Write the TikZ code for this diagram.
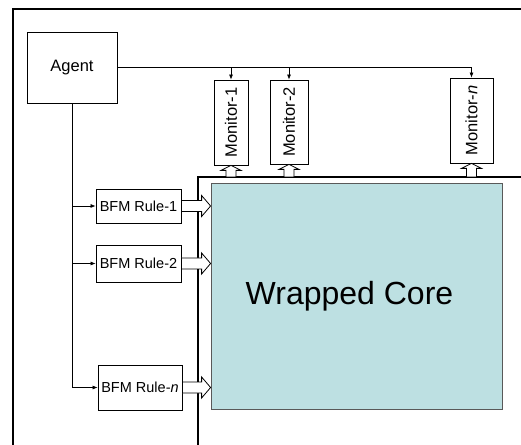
\documentclass[tikz,border=0pt]{standalone}
\usepackage{fontspec}
\setmainfont{Liberation Sans}
\usetikzlibrary{arrows.meta,calc}
\definecolor{coreblue}{HTML}{BDE0E2}
\newcommand\hollowright[1]{%
  \draw[hollow] let \p1=(#1), \p2=(core.west) in
    (\x1,\y1+5.5pt) -- (\x2-9pt,\y1+5.5pt) -- (\x2-9pt,\y1+10.5pt) -- (\x2,\y1)
    -- (\x2-9pt,\y1-10.5pt) -- (\x2-9pt,\y1-5.5pt) -- (\x1,\y1-5.5pt) -- cycle;}
\newcommand\hollowup[1]{%
  \draw[hollow] let \p1=(#1), \p2=(wraptop) in
    (\x1-5pt,\y2) -- (\x1-5pt,\y1-5pt) -- (\x1-10pt,\y1-5pt) -- (\x1,\y1)
    -- (\x1+10pt,\y1-5pt) -- (\x1+5pt,\y1-5pt) -- (\x1+5pt,\y2) -- cycle;}
\begin{document}
\begin{tikzpicture}[x=1pt,y=1pt,
  box/.style={draw, line width=0.8pt, inner sep=0pt},
  conn/.style={line width=0.7pt, -{Latex[length=5pt,width=4pt]}},
  hollow/.style={draw, line width=0.8pt, fill=white},
  mon/.style={box, rotate=90, font=\fontsize{16.5}{18}\selectfont},
  bfm/.style={box, font=\fontsize{14.5}{16}\selectfont}]
\useasboundingbox (0,0) rectangle (521,444);
% outer frame
\draw[line width=2pt] (13,-2) -- (13,435) -- (523,435);
% wrapper frame
\coordinate (wraptop) at (198,267);
\draw[line width=1.5pt] (198,-2) -- (wraptop) -- (523,267);
% agent
\node[box, minimum width=90, minimum height=71, font=\fontsize{16.5}{18}\selectfont] (agent) at (72,376.5) {Agent};
% monitors (rotated: east anchor is the top, west anchor is the bottom)
\node[mon, minimum width=85, minimum height=34] (m1) at (231,321.5) {Monitor-1};
\node[mon, minimum width=84, minimum height=38] (m2) at (289,322) {Monitor-2};
\node[mon, minimum width=85, minimum height=43] (mn) at (471.5,323.5) {Monitor-\textit{n}};
% BFM rules
\node[bfm, minimum width=85, minimum height=34] (b1) at (138.5,238) {BFM Rule-1};
\node[bfm, minimum width=85, minimum height=37] (b2) at (138.5,180.5) {BFM Rule-2};
\node[bfm, minimum width=84, minimum height=45] (bn) at (140,56.5) {BFM Rule-\textit{n}};
% core
\node[draw=black!65, line width=0.8pt, fill=coreblue, minimum width=291, minimum height=226,
      font=\fontsize{32}{34}\selectfont] (core) at (356.5,148) {\hspace*{-14pt}Wrapped Core};
% connectors agent -> monitors
\draw[conn] (agent.east) -| (mn.east);
\draw[conn] (agent.east -| m1.east) -- (m1.east);
\draw[conn] (agent.east -| m2.east) -- (m2.east);
% connectors agent -> BFM rules
\draw[conn] (agent.south) |- (bn.west);
\draw[conn] (agent.south |- b1.west) -- (b1.west);
\draw[conn] (agent.south |- b2.west) -- (b2.west);
% hollow arrows
\hollowright{b1.east}
\hollowright{b2.east}
\hollowright{bn.east}
\hollowup{m1.west}
\hollowup{m2.west}
\hollowup{mn.west}
\end{tikzpicture}
\end{document}
